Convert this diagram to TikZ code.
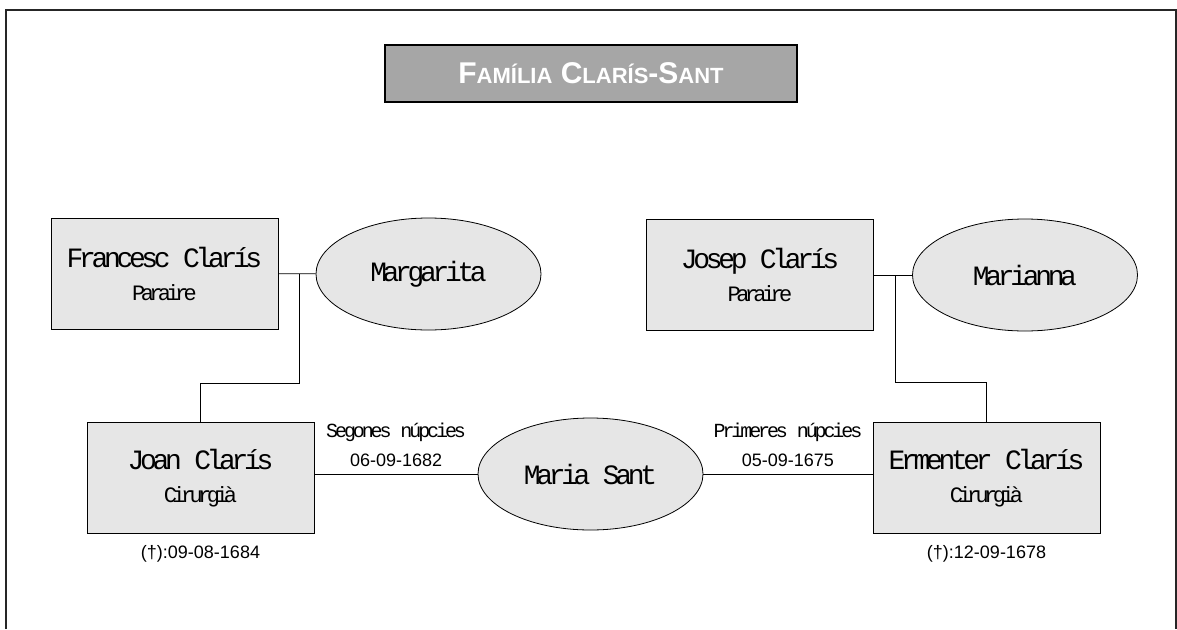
\documentclass[tikz,border=0pt]{standalone}
\usepackage{fontspec}
\setmainfont{Liberation Serif}
\newfontfamily\namefont[LetterSpace=-15.5]{Liberation Mono}
\newfontfamily\subfont[LetterSpace=-21]{Liberation Mono}
\newfontfamily\datefont{Liberation Sans}
\usetikzlibrary{positioning, shapes.geometric}
\definecolor{boxgray}{HTML}{E6E6E6}
\definecolor{titlegray}{HTML}{A6A6A6}
\newcommand{\ofici}[1]{{\subfont\fontsize{22}{22}\selectfont #1}}
\newcommand{\petita}[1]{{\fontsize{22}{22}\selectfont #1}}
\tikzset{
  persona/.style={draw, line width=1pt, fill=boxgray, minimum width=227pt,
    minimum height=111pt, inner sep=0pt, align=center,
    font=\namefont\fontsize{28}{33}\selectfont},
  parella/.style={draw, line width=0.8pt, ellipse, fill=boxgray, minimum width=225pt,
    minimum height=112pt, inner sep=0pt, font=\namefont\fontsize{28}{28}\selectfont},
  nupcies/.style={align=center, inner sep=0pt,
    font=\namefont\fontsize{20}{29}\selectfont},
  defuncio/.style={inner sep=0pt, font=\datefont\fontsize{18}{18}\selectfont},
  titol/.style={draw=black, line width=2.5pt, fill=titlegray, text=white,
    minimum width=412pt, minimum height=57pt, inner sep=0pt,
    font=\datefont\bfseries\fontsize{30}{30}\selectfont},
  lligam/.style={line width=0.9pt}
}
\newcommand{\data}[1]{{\datefont\fontsize{18}{18}\selectfont #1}}

\begin{document}
\begin{tikzpicture}[x=1pt, y=-1pt]
\useasboundingbox (0,0) rectangle (1177,629);
\draw[line width=1.8pt, black!85] (6,629) -- (6,10) -- (1176,10) -- (1176,629);

\node[titol] (titol) at (591,73.5)
  {F\petita{AMÍLIA} C\petita{LARÍS}-S\petita{ANT}};

\node[persona] (francesc) at (164.5,273.5) {Francesc Clarís\\\ofici{Paraire}};
\node[parella] (margarita) at (428.5,274) {Margarita};
\node[persona] (josep) at (760,275) {Josep Clarís\\\ofici{Paraire}};
\node[parella] (marianna) at (1025,275) {Marianna};

\node[persona] (joan) at (200.5,478) {Joan Clarís\\\ofici{Cirurgià}};
\node[parella] (maria) at (590.5,474) {Maria Sant};
\node[persona] (ermenter) at (986.5,478) {Ermenter Clarís\\\ofici{Cirurgià}};

\coordinate (fm) at (299,273.5);
\coordinate (jm) at (895,275);
\draw[lligam] (francesc) -- (margarita);
\draw[lligam] (josep) -- (marianna);
\draw[lligam] (fm) -- ++(0,109.5) -| (joan.north);
\draw[lligam] (jm) -- ++(0,107) -| (ermenter.north);

\draw[lligam] (joan.east |- maria.west) -- node[nupcies, above=7pt] (segones)
  {Segones núpcies\\\data{06-09-1682}} (maria.west);
\draw[lligam] (maria.east) -- node[nupcies, above=7pt] (primeres)
  {Primeres núpcies\\\data{05-09-1675}} (ermenter.west |- maria.east);

\node[defuncio, below=11pt of joan] (mortjoan) {(†):09-08-1684};
\node[defuncio, below=11pt of ermenter] (mortermenter) {(†):12-09-1678};
\end{tikzpicture}
\end{document}
